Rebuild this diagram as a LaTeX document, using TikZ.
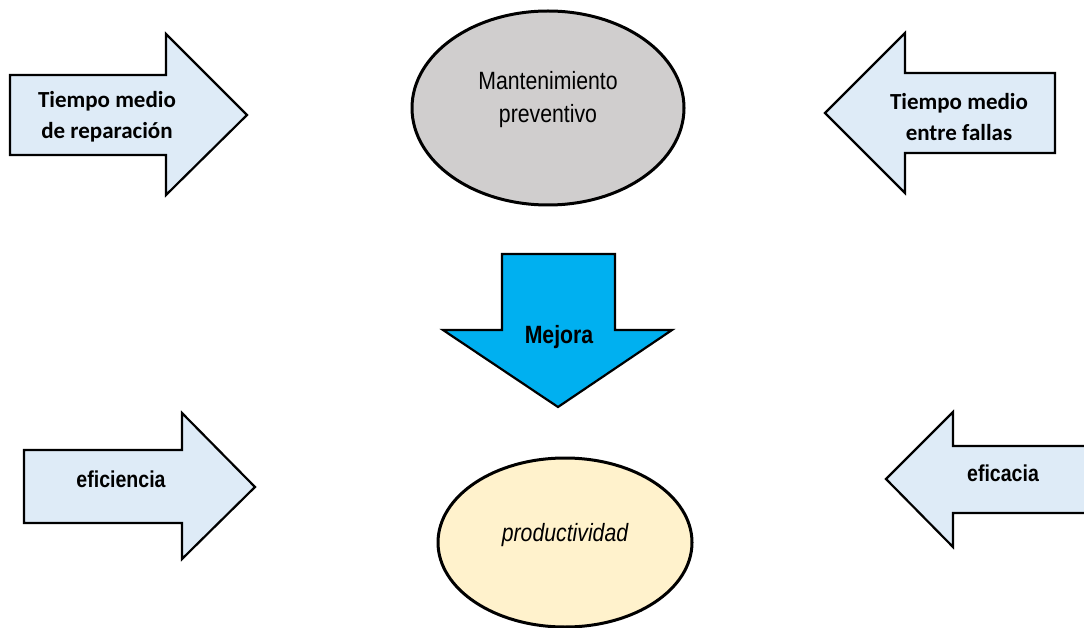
\documentclass[tikz,border=0pt]{standalone}
\usepackage{fontspec}
\setmainfont{Liberation Sans}
\newfontfamily\calibri{Carlito}
\newfontfamily\angosta[FakeStretch=0.85]{Liberation Sans}
\usetikzlibrary{shapes.geometric}

\definecolor{azulclaro}{HTML}{DEEBF7}
\definecolor{gris}{HTML}{D0CECE}
\definecolor{cian}{HTML}{00B0F0}
\definecolor{crema}{HTML}{FFF2CC}

\begin{document}
\begin{tikzpicture}[x=1pt,y=-1pt,line width=2.2pt,line join=miter,
		flecha/.style={draw=black,fill=azulclaro},
		elipse/.style={ellipse,draw=black,line width=3pt,inner sep=0pt},
		textoc/.style={font=\calibri\bfseries\fontsize{23}{31}\selectfont,align=center,inner sep=0pt},
		textoa/.style={font=\angosta\fontsize{25}{33}\selectfont,align=center,inner sep=0pt}]
	\useasboundingbox (0,0) rectangle (1084,628);
	
	% Side arrows
	\draw[flecha] (10,75) -- (166,75) -- (166,34) -- (247,115) -- (166,195) -- (166,155) -- (10,155) -- cycle;
	\draw[flecha] (1055,73) -- (905,73) -- (905,33) -- (825,113) -- (905,193) -- (905,153) -- (1055,153) -- cycle;
	\draw[flecha] (24,450) -- (182,450) -- (182,413) -- (255,487) -- (182,559) -- (182,523) -- (24,523) -- cycle;
	\draw[flecha] (1095,446) -- (953,446) -- (953,412) -- (886,479) -- (953,547) -- (953,513) -- (1095,513) -- cycle;
	
	% Down arrow
	\draw[fill=cian] (502,254) -- (615,254) -- (615,330) -- (672,330) -- (558,407) -- (443,330) -- (502,330) -- cycle;
	
	% Ellipses
	\node[elipse,fill=gris,minimum width=272pt,minimum height=194pt] (mantto) at (548,108) {};
	\node[elipse,fill=crema,minimum width=254pt,minimum height=169pt] (prod) at (565,542.5) {};
	
	% Texts
	\node[textoc] (trep) at (107,117) {Tiempo medio\\de reparación};
	\node[textoc] (tmef) at (959,117) {Tiempo medio\\entre fallas};
	\node[textoa] (txtmantto) at (548,100) {Mantenimiento\\preventivo};
	\node[textoa,font=\angosta\bfseries\fontsize{25}{33}\selectfont] (mejora) at (559,337) {Mejora};
	\node[textoa,font=\angosta\bfseries\fontsize{23}{31}\selectfont] (efic) at (121,479) {eficiencia};
	\node[textoa,font=\angosta\bfseries\fontsize{23}{31}\selectfont] (eficacia) at (1003,473) {eficacia};
	\node[textoa,font=\angosta\itshape\fontsize{25}{33}\selectfont] (txtprod) at (565,535) {productividad};
\end{tikzpicture}
\end{document}
